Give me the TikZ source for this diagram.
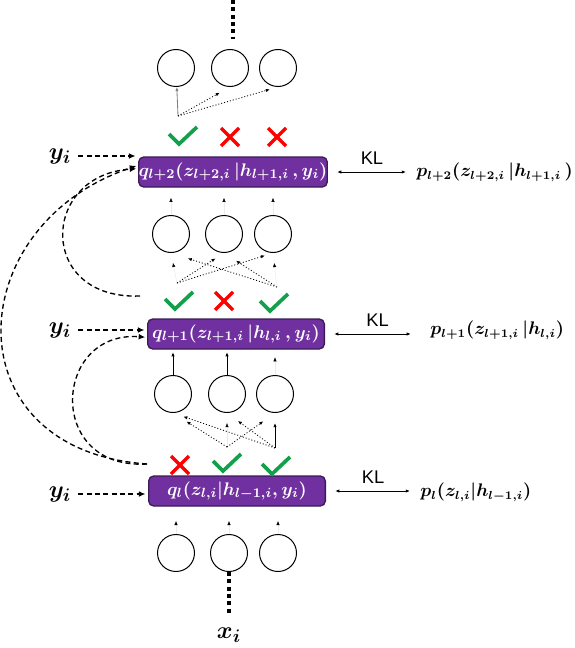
\documentclass[tikz,border=0pt]{standalone}
\usepackage{amsmath}
\usepackage{fontspec}
\usetikzlibrary{arrows.meta}
\newfontfamily\klfont{Liberation Sans}
\definecolor{boxpurple}{HTML}{7030A0}
\definecolor{boxedge}{HTML}{3B1A55}
\definecolor{tickgreen}{HTML}{12A04A}
\definecolor{crossred}{HTML}{FF0000}
\begin{document}
\begin{tikzpicture}[x=0.6pt, y=-0.6pt,
  neuron/.style={circle, draw, line width=0.6pt, minimum size=22.2pt, inner sep=0pt},
  qbox/.style={draw=boxedge, fill=boxpurple, line width=0.8pt, rounded corners=3pt, text=white, minimum width=106pt, minimum height=18pt, inner sep=0pt, font=\fontsize{10.8}{12}\selectfont\boldmath},
  ptext/.style={font=\fontsize{10.6}{12}\selectfont\boldmath, anchor=west, inner sep=0pt},
  ylab/.style={font=\fontsize{15.5}{17}\selectfont\boldmath, inner sep=1pt},
  feed/.style={dash pattern=on 3pt off 2pt, line width=0.8pt, -{Latex[length=4pt,width=3.5pt]}},
  kl/.style={line width=0.5pt, {Latex[length=2.5pt,width=2pt]}-{Latex[length=2.5pt,width=2pt]}, shorten <=5.5pt},
  dotline/.style={line width=2.4pt, dash pattern=on 2.4pt off 2pt},
  sel/.style={dash pattern=on 0.6pt off 1.2pt, line width=0.5pt, -{Latex[length=2.5pt,width=2pt]}},
  upline/.style={line width=0.5pt, -{Latex[length=2.5pt,width=2pt]}},
  stub/.style={line width=0.3pt, black!8, -{Latex[length=2.5pt,width=2pt,color=black]}},
  okmark/.pic={\draw[tickgreen, line width=2.2pt] (-12,-1) -- (-2,9) -- (16,-8);},
  nomark/.pic={\draw[crossred, line width=2pt] (-9,-9) -- (9,9) (-9,9) -- (9,-9);}
]
\useasboundingbox (0,0) rectangle (574,648);

\node[qbox] (q3) at (233,172) {$q_{l+2}(z_{l+2,i}\,|h_{l+1,i}\,,y_i)$};
\node[qbox] (q2) at (236,334) {$q_{l+1}(z_{l+1,i}\,|h_{l,i}\,,y_i)$};
\node[qbox] (q1) at (237,491) {$q_l(z_{l,i}|h_{l-1,i},y_i)$};

\node[neuron] (n4a) at (176,68) {};
\node[neuron] (n4b) at (230,68) {};
\node[neuron] (n4c) at (278,68) {};
\node[neuron] (n3a) at (171,234) {};
\node[neuron] (n3b) at (224,234) {};
\node[neuron] (n3c) at (273,234) {};
\node[neuron] (n2a) at (173,394) {};
\node[neuron] (n2b) at (227,394) {};
\node[neuron] (n2c) at (275,394) {};
\node[neuron] (n1a) at (176,553) {};
\node[neuron] (n1b) at (229,553) {};
\node[neuron] (n1c) at (278,553) {};

\pic at (181,135) {okmark};
\pic at (230,137) {nomark};
\pic at (277,137) {nomark};
\pic at (177,300) {okmark};
\pic at (224,301) {nomark};
\pic at (272,302) {okmark};
\pic at (180,465) {nomark};
\pic at (225,462) {okmark};
\pic at (274,465) {okmark};

\coordinate (s3a) at (178,116);
\coordinate (s2a) at (177,283);
\coordinate (s2c) at (277,287);
\coordinate (s1b) at (227,447);
\coordinate (s1c) at (275,448);

\draw[upline, black!50] (s3a) -- (n4a);
\draw[sel, shorten >=7pt] (s3a) -- (n4b.south);
\draw[sel, shorten >=5pt] (s3a) -- (n4c.south);

\draw[stub, shorten >=6pt] (s2a) -- (n3a.south);
\draw[sel, shorten >=6pt] (s2a) -- (n3b.south);
\draw[sel, shorten >=5pt] (s2a) -- (n3c.south);
\draw[sel, shorten >=10.5pt] (s2c) -- (n3a.south);
\draw[sel, shorten >=8.5pt] (s2c) -- (n3b.south);
\draw[stub, shorten >=6pt] (s2c) -- (n3c.south);

\draw[sel, shorten >=9.5pt] (s1b) -- (n2a.south);
\draw[stub, shorten >=6pt] (s1b) -- (n2b.south);
\draw[sel, shorten >=8.5pt] (s1b) -- (n2c.south);
\draw[sel, shorten >=6.5pt] (s1c) -- (n2a.south);
\draw[sel, shorten >=8pt] (s1c) -- (n2b.south);
\draw[upline, shorten >=6pt] (s1c) -- (n2c.south);

\draw[stub, shorten >=8.5pt] (n1a.north) -- (n1a.north |- q1.south);
\draw[stub, shorten >=8.5pt] (n1b.north) -- (n1b.north |- q1.south);
\draw[stub, shorten >=8.5pt] (n1c.north) -- (n1c.north |- q1.south);
\draw[upline, shorten >=1.5pt] (n2a.north) -- (n2a.north |- q2.south);
\draw[upline, shorten >=1.5pt] (n2b.north) -- (n2b.north |- q2.south);
\draw[stub, shorten >=4.5pt] (n2c.north) -- (n2c.north |- q2.south);
\draw[stub, shorten >=6pt] (n3a.north) -- (n3a.north |- q3.south);
\draw[stub, shorten >=6pt] (n3b.north) -- (n3b.north |- q3.south);
\draw[stub, shorten >=6pt] (n3c.north) -- (n3c.north |- q3.south);

\coordinate (dtop) at (233,0);
\draw[dotline, shorten >=6pt] (dtop) -- (dtop |- n4b.north);
\node[ylab] (xi) at (229,635) {$x_i$};
\draw[dotline, shorten >=6pt] (n1b) -- (xi);

\node[ylab] (y3) at (60,156) {$y_i$};
\node[ylab] (y2) at (60,330) {$y_i$};
\node[ylab] (y1) at (60,494) {$y_i$};
\draw[feed, shorten <=3pt, shorten >=1.5pt] (y3.east) -- (y3.east -| q3.west);
\draw[feed, shorten <=3pt, shorten >=1.5pt] (y2.east) -- (y2.east -| q2.west);
\draw[feed, shorten <=3pt, shorten >=1.5pt] (y1.east) -- (y1.east -| q1.west);

\coordinate (c2) at (140,296);
\coordinate (c1) at (147,464);
\draw[feed, shorten >=1pt] (c2) .. controls (37,300) and (40,175) .. ([yshift=2pt]q3.west);
\draw[feed, shorten >=1pt] (c1) .. controls (-50,450) and (-40,225) .. ([yshift=4pt]q3.west);
\draw[feed, shorten >=1pt] (c1) .. controls (45,470) and (53,330) .. ([yshift=-2pt]q2.west);

\node[ptext] (p3) at (416,172) {$p_{l+2}(z_{l+2,i}\,|h_{l+1,i}\,)$};
\node[ptext] (p2) at (430,330) {$p_{l+1}(z_{l+1,i}\,|h_{l,i})$};
\node[ptext] (p1) at (420,492) {$p_l(z_{l,i}|h_{l-1,i})$};
\draw[kl, shorten >=6pt] (q3.east) -- (p3.west |- q3.east) node[midway, above=1pt, font=\klfont\fontsize{11}{13}\selectfont] (kl3) {KL};
\draw[kl, shorten >=11.5pt] (q2.east) -- (p2.west |- q2.east) node[midway, above=1pt, font=\klfont\fontsize{11}{13}\selectfont] (kl2) {KL};
\draw[kl, shorten >=6pt] (q1.east) -- (p1.west |- q1.east) node[midway, above=1pt, font=\klfont\fontsize{11}{13}\selectfont] (kl1) {KL};
\end{tikzpicture}
\end{document}
